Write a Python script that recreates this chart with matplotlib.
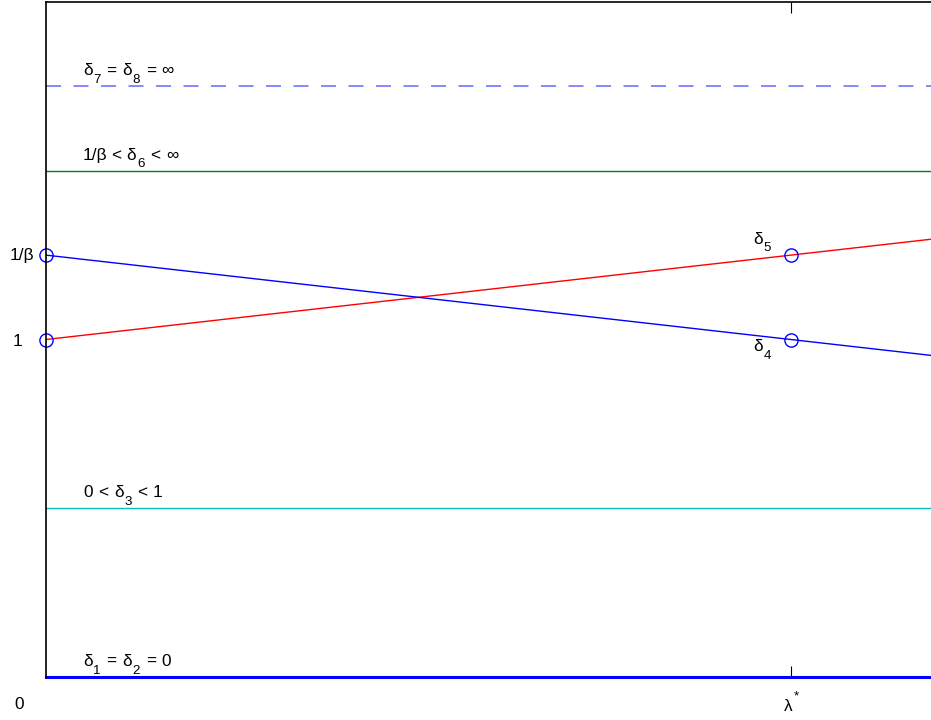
import matplotlib
matplotlib.use("Agg")
import matplotlib.pyplot as plt
from matplotlib.transforms import offset_copy

plt.rcParams['font.family'] = ['Liberation Sans', 'DejaVu Sans']

beta = 0.8
lam_star = 1.0

# level lines (constant delta values)
levels = [0.0, 0.5, 1.5, 1.75]
# each label: list of (text, role) with role 0 = normal, -1 = subscript, 1 = superscript;
# ' ' is a normal gap, a number is a gap of that many pixels
level_labels = [
    [('δ', 0), ('1', -1), ' ', ('=', 0), ' ', ('δ', 0), ('2', -1), ' ', ('=', 0), ' ', ('0', 0)],
    [('0', 0), ' ', ('<', 0), ' ', ('δ', 0), ('3', -1), ' ', ('<', 0), ' ', ('1', 0)],
    [('1/β', 0), 2.5, ('<', 0), ' ', ('δ', 0), ('6', -1), ' ', ('<', 0), ' ', ('∞', 0)],
    [('δ', 0), ('7', -1), ' ', ('=', 0), ' ', ('δ', 0), ('8', -1), ' ', ('=', 0), ' ', ('∞', 0)],
]

# crossing lines
x_line = [0.0, 1.25]
red_y = [1.0, 1.0 + 0.25 * 1.25]
blue_y = [1 / beta, 1 / beta - 0.25 * 1.25]

circ_x = [0.0, 0.0, lam_star, lam_star]
circ_y = [1.0, 1 / beta, 1.0, 1 / beta]

fig = plt.figure(figsize=(9.31, 7.2), dpi=100)
ax = fig.add_axes([46 / 931, 43 / 720, 1.0, 675 / 720])
renderer = fig.canvas.get_renderer()


def rich(x, y, parts, size=12.4, small=9.6, gap=4.8):
    dx = 0.0
    for p in parts:
        if p == ' ':
            dx += gap
            continue
        if isinstance(p, (int, float)):
            dx += p
            continue
        s, role = p
        dy = {0: 0, -1: -7.5, 1: 12}[role]
        tr = offset_copy(ax.transData, fig=fig, x=dx, y=dy, units='dots')
        t = ax.text(x, y, s, transform=tr, fontsize=size if role == 0 else small,
                    ha='left', va='baseline', clip_on=False)
        dx += t.get_window_extent(renderer).width + 0.8


ax.plot([0, 1.25], [levels[0]] * 2, color='b', lw=2.2, clip_on=False)
ax.plot([0, 1.25], [levels[1]] * 2, color='c', lw=1)
ax.plot([0, 1.25], [levels[2]] * 2, color='g', lw=1)
ax.plot([0, 1.25], [levels[3]] * 2, color=(0.45, 0.45, 1.0), lw=1.2, ls=(0, (9, 7.5)))

ax.plot(x_line, red_y, color='r', lw=1)
ax.plot(x_line, blue_y, color='b', lw=1)
ax.plot(circ_x, circ_y, 'o', mfc='none', mec='b', ms=9.5, mew=1, clip_on=False)

for y, lab in zip(levels, level_labels):
    rich(0.0497, y + 0.0325, lab)

rich(0.949, 1.284, [('δ', 0), ('5', -1)])
rich(0.949, 0.9645, [('δ', 0), ('4', -1)])

ax.set_xlim(0, 1.25)
ax.set_ylim(0, 2.0)
ax.set_xticks([lam_star])
ax.set_xticklabels([''])
ax.set_yticks([])
ax.tick_params(axis='x', direction='in', length=8, top=True)

# axis labels drawn as text (left aligned as in the original)
rich(-0.0483, 1.2367, [('1/β', 0)])
rich(-0.0443, 0.982, [('1', 0)])
rich(-0.043, -0.0947, [('0', 0)])
rich(0.991, -0.1006, [('λ', 0), ('*', 1)])

for s in ['left', 'top']:
    ax.spines[s].set_linewidth(1.2)
ax.spines['right'].set_visible(False)
ax.spines['bottom'].set_visible(False)

fig.savefig('out.png', dpi=100)
